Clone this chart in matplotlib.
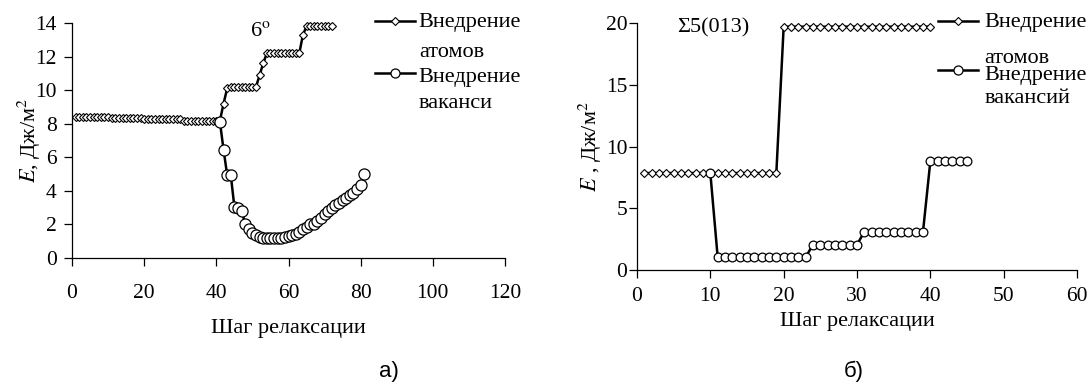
import numpy as np
import matplotlib
matplotlib.use("Agg")
import matplotlib.pyplot as plt

plt.rcParams['font.family'] = ['Liberation Serif', 'DejaVu Serif']
plt.rcParams['mathtext.fontset'] = 'stix'

# ---- Panel a) data ----
a_atoms_x = list(range(1, 73))
a_atoms_y = ([8.42] * 10 + [8.36] * 9 + [8.28] * 11 + [8.18] * 11 +
             [9.2, 10.1] + [10.2] * 8 + [10.9, 11.6] + [12.2] * 10 +
             [13.3] + [13.8] * 8)
a_vac_x = list(range(41, 82))
a_vac_y = [8.1, 6.45, 4.95, 4.95, 3.05, 3.0, 2.8, 2.05, 1.7, 1.5, 1.35,
           1.25, 1.2, 1.2, 1.2, 1.2, 1.2, 1.2, 1.25, 1.3, 1.35, 1.45, 1.55,
           1.7, 1.85, 2.0, 2.05, 2.2, 2.4, 2.6, 2.8, 2.95, 3.15, 3.3, 3.45,
           3.6, 3.75, 3.9, 4.1, 4.35, 5.0]
a_xticks = [0, 20, 40, 60, 80, 100, 120]
a_yticks = [0, 2, 4, 6, 8, 10, 12, 14]

# ---- Panel б) data ----
b_atoms_x = list(range(1, 41))
b_atoms_y = [7.85] * 19 + [19.7] * 21
b_vac_x = list(range(10, 46))
b_vac_y = [7.85] + [1.05] * 13 + [2.05] * 7 + [3.1] * 9 + [8.8] * 6
b_xticks = [0, 10, 20, 30, 40, 50, 60]
b_yticks = [0, 5, 10, 15, 20]

leg_a = ["Внедрение", "атомов", "Внедрение", "ваканси"]
leg_b = ["Внедрение", "атомов", "Внедрение", "вакансий"]

W, H = 1090, 385
fig = plt.figure(figsize=(W / 100, H / 100), dpi=100)


def box(x0, x1, ytop, ybot):
    return [x0 / W, 1 - ybot / H, (x1 - x0) / W, (ybot - ytop) / H]


axA = fig.add_axes(box(72, 505, 23, 258))
axB = fig.add_axes(box(637, 1077, 23, 270))

FS = 16      # text size
TFS = 15.5   # tick label size


def style(ax, xticks, yticks, xlim, ylim, xpad):
    for s in ['top', 'right']:
        ax.spines[s].set_visible(False)
    for s in ['left', 'bottom']:
        ax.spines[s].set_linewidth(0.9)
    ax.set_xlim(*xlim)
    ax.set_ylim(*ylim)
    ax.set_xticks(xticks)
    ax.set_yticks(yticks)
    ax.tick_params(axis='both', direction='out', length=6, width=0.9,
                   labelsize=TFS)
    ax.tick_params(axis='x', pad=xpad)


style(axA, a_xticks, a_yticks, (0, 120), (0, 14), 13)
axA.tick_params(axis='y', pad=5)
style(axB, b_xticks, b_yticks, (0, 60), (0, 20), 6)
axB.tick_params(axis='y', pad=1)

lw = 1.8
# panel a
axA.plot(a_atoms_x, a_atoms_y, color='black', lw=lw, marker='D', ms=4.3,
         mfc='white', mec='black', mew=0.8, clip_on=False, zorder=3)
axA.plot(a_vac_x, a_vac_y, color='black', lw=lw, marker='o', ms=8,
         mfc='white', mec='black', mew=0.9, clip_on=False, zorder=4)
# panel b
axB.plot(b_atoms_x, b_atoms_y, color='black', lw=lw, marker='D', ms=4.5,
         mfc='white', mec='black', mew=0.8, clip_on=False, zorder=3)
axB.plot(b_vac_x, b_vac_y, color='black', lw=lw, marker='o', ms=6.3,
         mfc='white', mec='black', mew=0.9, clip_on=False, zorder=4)

# axis labels
axA.set_xlabel("Шаг релаксации", fontsize=FS)
axA.xaxis.set_label_coords(0.5, -0.26)
axA.set_ylabel("$E$, Дж/м$^2$", fontsize=FS)
axA.yaxis.set_label_coords(-0.066, 0.5)

axB.set_xlabel("Шаг релаксации", fontsize=FS)
axB.xaxis.set_label_coords(0.5, -0.17)
axB.set_ylabel("$E$ , Дж/м$^2$", fontsize=FS)
axB.yaxis.set_label_coords(-0.074, 0.5)

# annotations
axA.text(52.3, 13.5, "6$^\\mathrm{o}$", fontsize=FS, ha='center', va='center')
axB.text(10.4, 19.6, "Σ5(013)", fontsize=FS, ha='center', va='center')


def legend(ax, hx0, hx1, hy, tx, tys, labels, mss):
    hm = (hx0 + hx1) / 2
    ax.plot([hx0, hm, hx1], [hy[0]] * 3, transform=ax.transAxes,
            color='black', lw=1.8, marker='D', ms=mss[0], markevery=[1],
            mfc='white', mec='black', mew=0.8, clip_on=False)
    ax.plot([hx0, hm, hx1], [hy[1]] * 3, transform=ax.transAxes,
            color='black', lw=1.8, marker='o', ms=mss[1], markevery=[1],
            mfc='white', mec='black', mew=0.9, clip_on=False)
    for t, y in zip(labels, tys):
        ax.text(tx, y, t, transform=ax.transAxes, fontsize=FS,
                ha='left', va='baseline')


legend(axA, 0.6998, 0.792, (1.0085, 0.787), 0.801,
       (0.983, 0.855, 0.749, 0.638), leg_a, (4.0, 6.5))
legend(axB, 0.684, 0.775, (1.008, 0.810), 0.789,
       (0.984, 0.838, 0.769, 0.676), leg_b, (4.0, 6.5))

# panel captions
fig.text(389 / W, 1 - 371 / H, "а)", fontsize=FS, ha='center', va='center',
         family='Liberation Sans')
fig.text(854 / W, 1 - 371 / H, "б)", fontsize=FS, ha='center', va='center',
         family='Liberation Sans')

fig.savefig("out.png", dpi=100)
